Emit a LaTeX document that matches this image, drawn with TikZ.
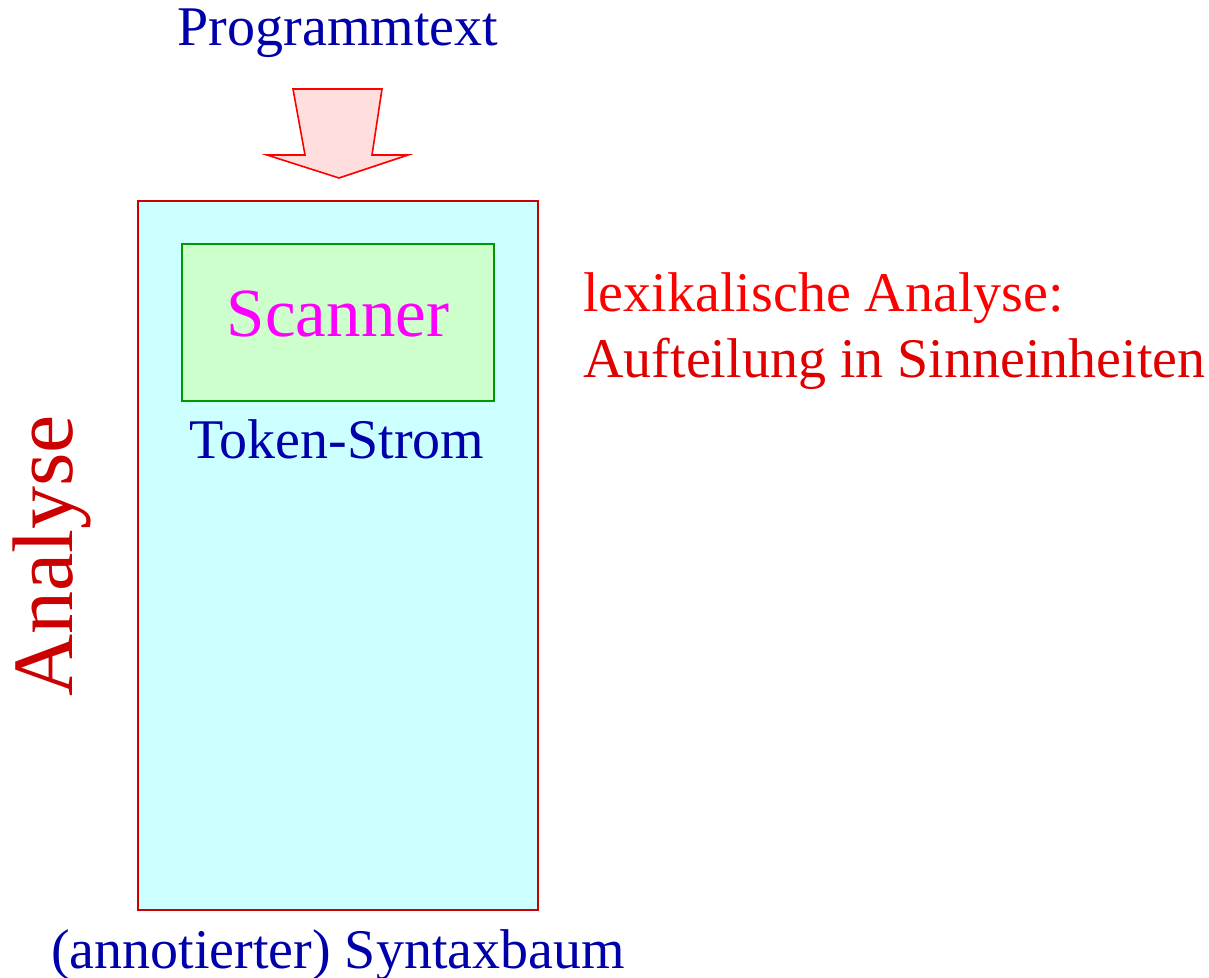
\documentclass[tikz,border=0pt]{standalone}
\usepackage{fontspec}
\setmainfont{Liberation Serif}
\usetikzlibrary{positioning}

\definecolor{dunkelblau}{rgb}{0,0,0.67}
\definecolor{dunkelrot}{rgb}{0.8,0,0}
\definecolor{hellrot}{rgb}{1,0,0}
\definecolor{pink}{rgb}{1,0,1}
\definecolor{hellcyan}{rgb}{0.8,1,1}
\definecolor{hellgruen}{rgb}{0.8,1,0.8}
\definecolor{hellrosa}{rgb}{1,0.87,0.87}
\definecolor{gruen}{rgb}{0,0.6,0}

\begin{document}
\begin{tikzpicture}[x=0.5pt,y=-0.5pt,
    txt/.style={inner sep=0pt,anchor=base,font=\fontsize{28}{32}\selectfont},
    blau/.style={txt,text=dunkelblau},
    phase/.style={draw=dunkelrot,line width=1pt,fill=hellcyan,inner sep=0pt},
    modul/.style={draw=gruen,line width=1pt,fill=hellgruen,inner sep=0pt}]
  \useasboundingbox (0,0) rectangle (1209,978);

  \node[phase,minimum width=200pt,minimum height=354.5pt] (ana) at (338,555.5) {};
  \node[modul,minimum width=156pt,minimum height=78pt] (scan) at (338,322.5) {};

  \node[blau] (prog) at (338,46) {Programmtext};
  \node[txt,text=pink,font=\fontsize{34.5}{40}\selectfont] (scantxt) at (338,337) {Scanner};
  \node[blau] (token) at (337,458) {Token-Strom};
  \node[blau] (baum) at (338,968) {(annotierter) Syntaxbaum};
  \node[txt,text=dunkelrot,rotate=90,font=\fontsize{43}{48}\selectfont] (anatxt) at (72,556) {Analyse};

  \node[txt,anchor=base west,text=hellrot] (lex1) at (583,312) {lexikalische Analyse:};
  \node[txt,anchor=base west,text=dunkelrot!60!hellrot] (lex2) at (583,378) {Aufteilung in Sinneinheiten};

  % Eingabepfeil
  \draw[hellrot,line width=0.8pt,fill=hellrosa,line join=miter]
    (293,89) -- (382,89) -- (372,155) -- (408,155) -- (339,178)
    -- (267,155) -- (305,155) -- cycle;
\end{tikzpicture}
\end{document}
